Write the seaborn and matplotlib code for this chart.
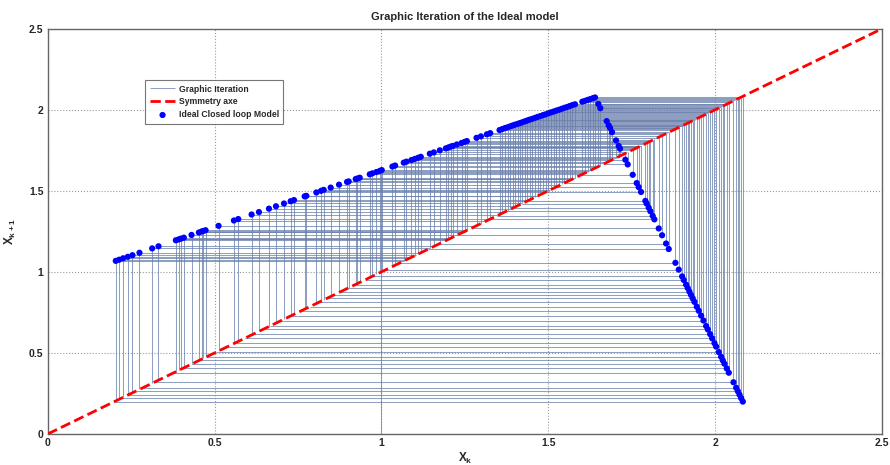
import numpy as np
import matplotlib
matplotlib.use('Agg')
import matplotlib.pyplot as plt
import seaborn as sns

# points of the ideal closed loop model: (x_k, x_k+1)
left_x = [0.204, 0.214, 0.226, 0.240, 0.254, 0.275, 0.313, 0.332, 0.384, 0.392,
          0.399, 0.408, 0.431, 0.453, 0.461, 0.466, 0.473, 0.512, 0.558, 0.571,
          0.611, 0.633, 0.663, 0.684, 0.708, 0.728, 0.738, 0.770, 0.775, 0.805,
          0.819, 0.827, 0.848, 0.873, 0.897, 0.902, 0.923, 0.928, 0.935, 0.965,
          0.973, 0.985, 0.995, 1.001, 1.033, 1.041, 1.067, 1.075, 1.090, 1.100,
          1.110, 1.118, 1.145, 1.157, 1.175, 1.193, 1.201, 1.208, 1.214, 1.226,
          1.240, 1.249, 1.256, 1.285, 1.298, 1.316, 1.326, 1.354, 1.362, 1.370,
          1.378, 1.386, 1.393, 1.400, 1.408, 1.415, 1.422, 1.430, 1.437, 1.444,
          1.452, 1.460, 1.468, 1.476, 1.484, 1.492, 1.500, 1.508, 1.516, 1.524,
          1.532, 1.540, 1.548, 1.556, 1.564, 1.572, 1.580, 1.602, 1.610, 1.618,
          1.626, 1.634, 1.640]
left_y = [1.068, 1.075, 1.084, 1.093, 1.103, 1.118, 1.145, 1.158, 1.195, 1.200,
          1.205, 1.211, 1.228, 1.243, 1.249, 1.252, 1.257, 1.284, 1.317, 1.326,
          1.354, 1.369, 1.390, 1.405, 1.422, 1.436, 1.443, 1.466, 1.469, 1.490,
          1.500, 1.506, 1.520, 1.538, 1.555, 1.558, 1.573, 1.576, 1.581, 1.602,
          1.608, 1.616, 1.623, 1.628, 1.650, 1.656, 1.674, 1.680, 1.690, 1.697,
          1.704, 1.710, 1.729, 1.737, 1.750, 1.762, 1.768, 1.773, 1.777, 1.786,
          1.795, 1.802, 1.807, 1.827, 1.836, 1.849, 1.856, 1.875, 1.881, 1.887,
          1.892, 1.898, 1.903, 1.908, 1.913, 1.918, 1.923, 1.929, 1.934, 1.939,
          1.944, 1.950, 1.956, 1.961, 1.967, 1.972, 1.978, 1.984, 1.989, 1.995,
          2.000, 2.006, 2.012, 2.017, 2.023, 2.029, 2.034, 2.050, 2.055, 2.061,
          2.066, 2.072, 2.076]
right_x = [1.650, 1.656, 1.675, 1.681, 1.685, 1.691, 1.703, 1.711, 1.715, 1.731,
           1.738, 1.753, 1.765, 1.771, 1.778, 1.791, 1.795, 1.801, 1.806, 1.813,
           1.818, 1.831, 1.841, 1.853, 1.861, 1.881, 1.891, 1.901, 1.906, 1.913,
           1.918, 1.923, 1.928, 1.933, 1.938, 1.945, 1.951, 1.958, 1.965, 1.973,
           1.978, 1.985, 1.991, 1.998, 2.003, 2.011, 2.018, 2.023, 2.028, 2.035,
           2.041, 2.055, 2.063, 2.068, 2.073, 2.078, 2.083]
right_y = [2.036, 2.010, 1.930, 1.904, 1.888, 1.862, 1.811, 1.777, 1.760, 1.692,
           1.663, 1.599, 1.548, 1.523, 1.493, 1.438, 1.421, 1.396, 1.374, 1.345,
           1.324, 1.268, 1.226, 1.175, 1.141, 1.056, 1.014, 0.972, 0.950, 0.921,
           0.900, 0.878, 0.857, 0.836, 0.815, 0.785, 0.760, 0.730, 0.700, 0.666,
           0.645, 0.616, 0.590, 0.560, 0.539, 0.505, 0.476, 0.454, 0.433, 0.404,
           0.378, 0.319, 0.285, 0.264, 0.242, 0.221, 0.200]

start_x = 1.0          # iteration starts from (1, 0)
start_y = 1.628
diag = [0, 2.5]
ticks = [0, 0.5, 1, 1.5, 2, 2.5]
tick_labels = ['0', '0.5', '1', '1.5', '2', '2.5']

xs = np.array(left_x + right_x)
ys = np.array(left_y + right_y)

sns.set_style('white')
plt.rcParams['font.family'] = ['Liberation Sans', 'DejaVu Sans']
plt.rcParams['mathtext.fontset'] = 'custom'
plt.rcParams['mathtext.rm'] = 'Liberation Sans'
plt.rcParams['mathtext.bf'] = 'Liberation Sans:bold'

fig = plt.figure(figsize=(8.9, 4.65), dpi=100)
ax = fig.add_axes([0.0536, 0.0667, 0.9374, 0.8715])

web_col = (0.42, 0.50, 0.68)
# cobweb: vertical from diagonal to the point, horizontal back to the diagonal
ax.vlines(xs, xs, ys, colors=[web_col], linewidth=0.75, alpha=0.75, zorder=2,
          label='Graphic Iteration')
ax.hlines(ys, xs, ys, colors=[web_col], linewidth=0.75, alpha=0.75, zorder=2)
ax.vlines([start_x], [0], [start_y], colors=[web_col], linewidth=0.75, alpha=0.75, zorder=2)

sns.lineplot(x=diag, y=diag, ax=ax, color='red', linestyle='--', linewidth=2,
             zorder=3, label='Symmetry axe')
sns.scatterplot(x=xs, y=ys, ax=ax, color='blue', s=20, edgecolor='none',
                zorder=4, label='Ideal Closed loop Model')

ax.set_xlim(0, 2.5)
ax.set_ylim(0, 2.5)
ax.set_xticks(ticks)
ax.set_yticks(ticks)
ax.set_xticklabels(tick_labels, fontsize=7.5, fontweight='bold')
ax.set_yticklabels(tick_labels, fontsize=7.5, fontweight='bold')
ax.tick_params(direction='in', length=3, color='#555555', pad=3)
ax.grid(True, linestyle=':', color='#999999', linewidth=0.8)
for s in ax.spines.values():
    s.set_color('#666666')
    s.set_linewidth(1.0)

ax.set_title('Graphic Iteration of the Ideal model', fontsize=8, fontweight='bold', pad=6)
ax.set_xlabel(r'$\mathbf{X_k}$', fontsize=8.5, labelpad=2)
ax.set_ylabel(r'$\mathbf{X_{k+1}}$', fontsize=8.5, labelpad=8)

handles, labels = ax.get_legend_handles_labels()
leg = ax.legend(handles, labels, loc='upper left', bbox_to_anchor=(0.117, 0.873),
                frameon=True, fancybox=False, borderpad=0.5, borderaxespad=0,
                handlelength=3.0, handletextpad=0.4, labelspacing=0.45,
                prop={'weight': 'bold', 'size': 6.2})
leg.get_frame().set_edgecolor('#555555')
leg.get_frame().set_linewidth(0.8)

fig.savefig('out.png', dpi=100)
